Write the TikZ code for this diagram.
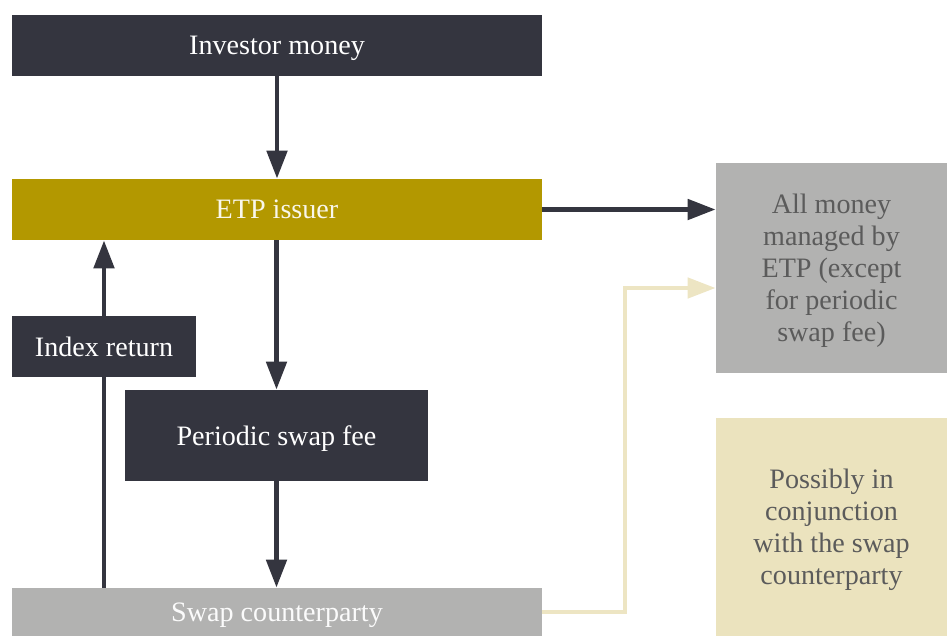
\documentclass[tikz,border=0pt]{standalone}
\usepackage{fontspec}
\setmainfont{Liberation Serif}
\usepackage{tikz}
\usetikzlibrary{arrows.meta,positioning}
\definecolor{etpdark}{HTML}{34353F}
\definecolor{etpgold}{HTML}{B39800}
\definecolor{etpgray}{HTML}{B2B2B1}
\definecolor{etpbeige}{HTML}{EBE3BE}
\definecolor{etpline}{HTML}{EDE5C3}
\definecolor{etptext}{HTML}{5B5B5B}

\begin{document}
\begin{tikzpicture}[every node/.style={font=\fontsize{16}{18.2}\selectfont, inner sep=0pt, align=center, text depth=0pt},
  flow/.style={-{Triangle[length=0.56cm, width=0.4cm]}, line width=2.8pt, draw=etpdark}]
  \useasboundingbox (0,0) rectangle (18.94,-12.72);

  % Investor money
  \node[fill=etpdark, text=white, minimum width=10.6cm, minimum height=1.22cm] (inv) at (5.54,-0.91) {Investor money};

  % ETP issuer
  \node[fill=etpgold, text=white!92!etpgold, minimum width=10.6cm, minimum height=1.22cm] (etp) at (5.54,-4.19) {ETP issuer};
  \draw[flow] (inv) -- (etp);

  % Index return and swap fee
  \node[fill=etpdark, text=white, minimum width=3.68cm, minimum height=1.22cm] (idx) at (2.08,-6.93) {Index return};
  \node[fill=etpdark, text=white, minimum width=6.06cm, minimum height=1.82cm] (fee) at (5.53,-8.71) {Periodic swap fee};
  \draw[flow] (etp.south -| fee.north) -- (fee.north);

  % Swap counterparty
  \node[fill=etpgray, text=white!95!etpgray, minimum width=10.6cm, minimum height=0.96cm] (swap) at (5.54,-12.24) {Swap counterparty};
  \draw[flow] (fee.south) -- (swap.north -| fee.south);
  \draw[line width=2.8pt, draw=etpdark] (swap.north -| idx.south) -- (idx.south);
  \draw[flow] (idx.north) -- (etp.south -| idx.north);

  % Right-hand boxes
  \node[fill=etpgray, text=etptext, minimum width=4.62cm, minimum height=4.2cm] (allm) at (16.63,-5.36)
    {All money\\managed by\\ETP (except\\for periodic\\swap fee)};
  \node[fill=etpbeige, text=etptext, minimum width=4.62cm, minimum height=4.36cm] (poss) at (16.63,-10.54)
    {Possibly in\\conjunction\\with the swap\\counterparty};
  \draw[flow] (etp.east) -- (etp.east -| allm.west);

  % Swap counterparty to managed money
  \coordinate (bend) at (12.5,-5.76);
  \draw[flow, draw=etpline, line width=2.6pt] (swap.east) -| (bend) -- (bend -| allm.west);
\end{tikzpicture}
\end{document}
